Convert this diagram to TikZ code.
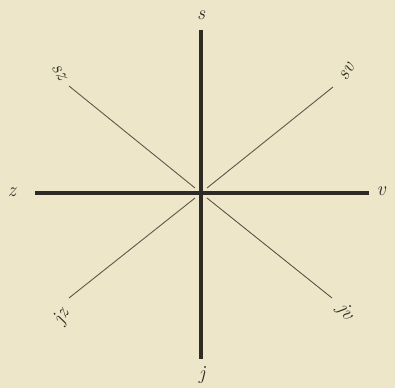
\documentclass[tikz,border=0pt]{standalone}
\definecolor{paper}{HTML}{EEE6C9}
\definecolor{ink}{HTML}{2E2A26}
\definecolor{thinink}{HTML}{5E574C}
\begin{document}
\begin{tikzpicture}[x=1pt,y=-1pt,
  axis/.style={draw=ink,line width=4.2pt},
  diag/.style={draw=thinink,line width=0.9pt},
  lbl/.style={inner sep=0pt,text=ink,font=\fontsize{20}{24}\selectfont\itshape}]
\fill[paper] (0,0) rectangle (395,388);
\useasboundingbox (0,0) rectangle (395,388);
\coordinate (c) at (201,193);
\coordinate (n) at (201,30);
\coordinate (s) at (201,359);
\coordinate (w) at (35,193);
\coordinate (e) at (369,193);
\coordinate (nw) at (69,86);
\coordinate (ne) at (333,87);
\coordinate (sw) at (69,298);
\coordinate (se) at (332,298);
\coordinate (nwi) at (195,188);
\coordinate (nei) at (207,188);
\coordinate (swi) at (195,198);
\coordinate (sei) at (207,198);
\draw[diag] (nw) -- (nwi);
\draw[diag] (ne) -- (nei);
\draw[diag] (sw) -- (swi);
\draw[diag] (se) -- (sei);
\draw[axis] (n) -- (s);
\draw[axis] (w) -- (e);
\node[lbl] (ls) at (201,15) {s};
\node[lbl] (lj) at (202,375) {j};
\node[lbl] (lz) at (12,192) {z};
\node[lbl] (lv) at (381,191) {v};
\node[lbl,rotate=-60] (lsz) at (59,72) {s\kern0.5pt z};
\node[lbl,rotate=60] (lsv) at (347,72) {s\kern0.5pt v};
\node[lbl,rotate=60] (ljz) at (62,317) {j\kern0.5pt z};
\node[lbl,rotate=-55] (ljv) at (345,312) {j\kern0.5pt v};
\end{tikzpicture}
\end{document}
